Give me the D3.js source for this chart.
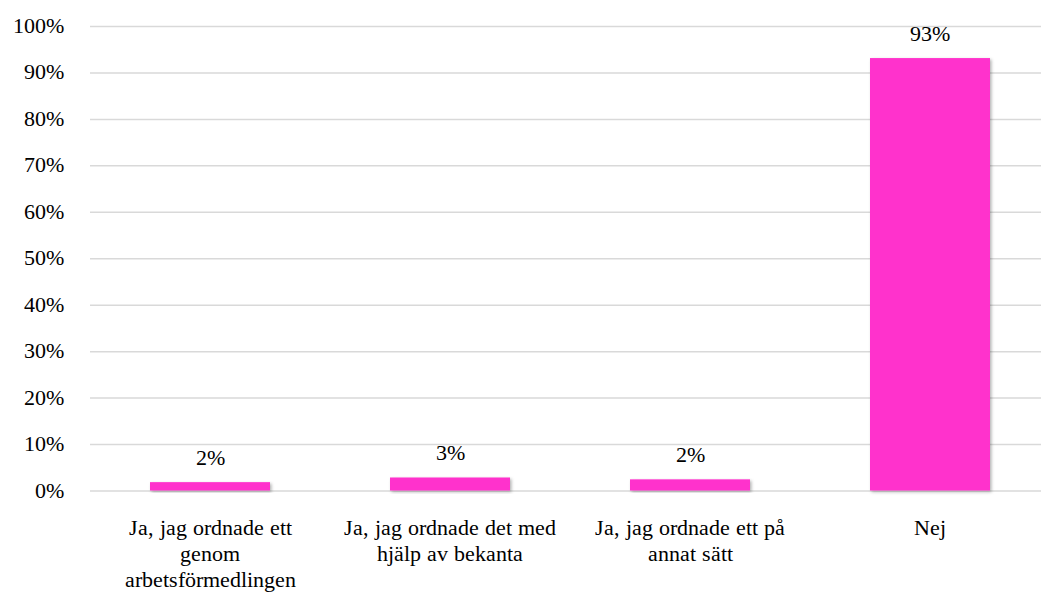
<!DOCTYPE html>
<html>
<head>
<meta charset="utf-8">
<script src="https://cdn.jsdelivr.net/npm/d3@7/dist/d3.min.js"></script>
<style>
  @font-face { font-family: "RefSerif"; src: local("Liberation Serif"), local("LiberationSerif"), local("LiberationSerif-Regular"), local("Tinos"), local("Times New Roman"); }
</style>
</head>
<body style="margin:0;background:#fff">
<svg id="chart" width="1041" height="596"></svg>
<script>
const categories = [
  "Ja, jag ordnade ett\ngenom\narbetsförmedlingen",
  "Ja, jag ordnade det med\nhjälp av bekanta",
  "Ja, jag ordnade ett på\nannat sätt",
  "Nej"
];
const values = [1.8, 2.8, 2.4, 93.1];
const valueLabels = ["2%", "3%", "2%", "93%"];
const yTicks = [0, 10, 20, 30, 40, 50, 60, 70, 80, 90, 100];

const FONT = '"RefSerif", "Liberation Serif", "Tinos", "Times New Roman", serif';
const FS = 22;
const svg = d3.select("#chart");
const margin = { left: 90, right: -9, top: 26, bottom: 105.5 };
const W = 1041, H = 596;

const x = d3.scaleBand().domain(categories).range([margin.left, W - margin.right]).paddingInner(0.5).paddingOuter(0.25);
const y = d3.scaleLinear().domain([0, 100]).range([H - margin.bottom, margin.top]);

const defs = svg.append("defs");
const f = defs.append("filter").attr("id", "shadow").attr("x", "-10%").attr("y", "-10%").attr("width", "130%").attr("height", "130%");
f.append("feDropShadow").attr("dx", 1.5).attr("dy", 1.5).attr("stdDeviation", 1.5).attr("flood-color", "#000").attr("flood-opacity", 0.3);

// gridlines
const grid = svg.append("g")
  .attr("transform", `translate(${margin.left},0)`)
  .call(d3.axisLeft(y).tickValues(yTicks).tickSize(-(W - margin.right - margin.left)).tickFormat(""));
grid.select(".domain").remove();
grid.selectAll("line").attr("stroke", "#d9d9d9").attr("stroke-width", 1.5);

function label(px, py, txt, anchor, dy) {
  svg.append("text")
    .attr("x", px).attr("y", py).attr("dy", dy || 0)
    .attr("text-anchor", anchor)
    .attr("font-family", FONT)
    .attr("font-size", FS)
    .style("font-family", FONT)
    .attr("fill", "#000")
    .text(txt);
}

// y labels
yTicks.forEach(t => label(64, y(t), t + "%", "end", "0.32em"));

// bars
svg.append("g").selectAll("rect").data(values).join("rect")
  .attr("x", (d, i) => x(categories[i]))
  .attr("width", x.bandwidth())
  .attr("y", d => y(d))
  .attr("height", d => y(0) - y(d))
  .attr("fill", "#ff33cc")
  .attr("filter", "url(#shadow)");

// value labels
values.forEach((d, i) => label(x(categories[i]) + x.bandwidth() / 2, y(d) - 17, valueLabels[i], "middle"));

// x labels
categories.forEach(c => {
  const cx = x(c) + x.bandwidth() / 2;
  c.split("\n").forEach((line, i) => label(cx, 535 + i * 26, line, "middle"));
});
</script>
</body>
</html>
